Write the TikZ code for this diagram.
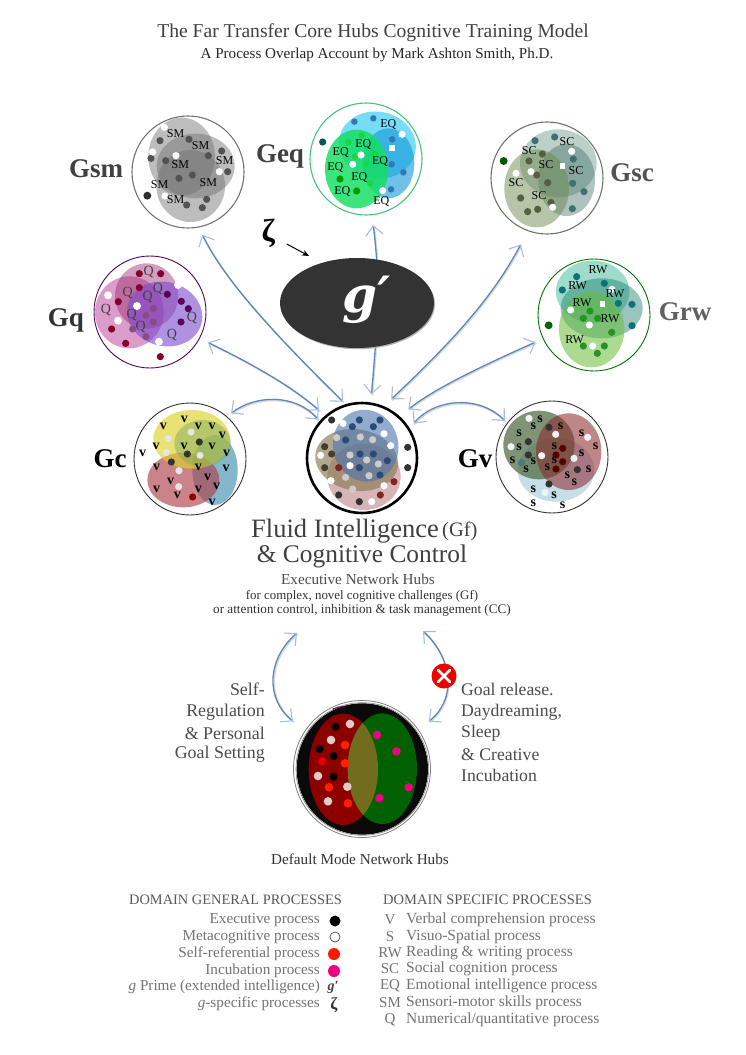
\documentclass[tikz,border=0pt]{standalone}
\usepackage{fontspec}
\setmainfont{Liberation Serif}
\newfontfamily\gfont{DejaVu Serif}
\usetikzlibrary{arrows.meta,shapes.geometric}
\definecolor{flowblue}{HTML}{5C87BC}
\definecolor{tipblue}{HTML}{A5BEDB}
\definecolor{flowshade}{HTML}{DADADA}
\definecolor{ringsc}{HTML}{667866}
\definecolor{qpink}{HTML}{C04CA0}
\definecolor{qmauve}{HTML}{9C2C70}
\definecolor{qviolet}{HTML}{7A48D0}
\definecolor{eqcy}{HTML}{30C8F5}
\definecolor{eqblue}{HTML}{1098D8}
\definecolor{eqgreen}{HTML}{10E060}
\definecolor{fblue}{HTML}{4A74B0}
\definecolor{ftan}{HTML}{8A7A50}
\definecolor{fpink}{HTML}{B06A72}
\definecolor{vblue}{HTML}{A0C8D8}
\definecolor{vgreen}{HTML}{4F6A42}
\definecolor{vred}{HTML}{8C2428}
\definecolor{cteal}{HTML}{5BA0BC}
\definecolor{cred}{HTML}{B0404A}
\definecolor{cyel}{HTML}{DCD22A}
\definecolor{cgreen}{HTML}{7AA860}
\definecolor{sca}{HTML}{5F9080}
\definecolor{scb}{HTML}{3E6E66}
\definecolor{scc}{HTML}{6E8A50}
\definecolor{rwa}{HTML}{3CB898}
\definecolor{rwb}{HTML}{1E8070}
\definecolor{rwc}{HTML}{68BC38}
\definecolor{fdot}{HTML}{2A4A78}
\newcommand{\fsz}[1]{\fontsize{#1}{#1}\selectfont}
\newcommand{\blob}[7]{\fill[fill=#1,fill opacity=#2,rotate around={#7:(#3,#4)}] (#3,#4) ellipse [x radius=#5,y radius=#6];}
\newcommand{\spots}[3]{\foreach \a/\b in {#3}{\fill[#1] (\a,\b) circle ({#2*1.08});}}
\newcommand{\tags}[3]{\foreach \a/\b in {#3}{\node[tagtext,#1,name=#2-\a-\b] at (\a,\b) {#2};}}
% start, control 1, control 2, end, shorten at start, shorten at end
\newcommand{\flow}[6]{%
  \draw[flowshade,line width=1.5pt,shorten <=#5pt,shorten >=#6pt,transform canvas={shift={(1pt,-1pt)}}] (#1) .. controls (#2) and (#3) .. (#4);
  \draw[flowline,shorten <=#5pt,shorten >=#6pt] (#1) .. controls (#2) and (#3) .. (#4);}
\tikzset{
  flowline/.style={flowblue,line width=1.3pt,{Straight Barb[length=9pt,width=17pt,color=tipblue,line width=1.1pt]}-{Straight Barb[length=9pt,width=17pt,color=tipblue,line width=1.1pt]}},
  hubring/.style={circle,draw=#1,inner sep=0pt,minimum size=112pt,line width=.9pt},
  speckle/.style={dash pattern=on .9pt off .25pt,line width=1.1pt},
  tagtext/.style={inner sep=0pt,text=black},
  smalltag/.style={font=\fsz{12}},
  hubname/.style={inner sep=0pt,font=\fsz{27}\bfseries},
  head/.style={inner sep=0pt,text=#1},
  head/.default={black!75},
  legendL/.style={inner sep=0pt,anchor=east,text=black!55,font=\fsz{15.2}},
  legendR/.style={inner sep=0pt,anchor=west,text=black!55,font=\fsz{15.5}},
  legendK/.style={inner sep=0pt,text=black!55,font=\fsz{15}},
}
\begin{document}
\begin{tikzpicture}[x=1pt,y=-1pt]
\useasboundingbox (0,0) rectangle (746,1055);
\fill[white] (0,0) rectangle (746,1055);

% ---------- titles
\node[head={black!75},font=\fsz{19.6}] (title) at (373,33) {The Far Transfer Core Hubs Cognitive Training Model};
\node[head={black!85},font=\fsz{15.1}] (subtitle) at (377,55) {A Process Overlap Account by Mark Ashton Smith, Ph.D.};

% ---------- rings
\node[hubring=black!55,speckle] (hGsm) at (188,172) {};
\node[hubring=teal!60!green!75,speckle] (hGeq) at (366,159) {};
\node[hubring=ringsc,speckle] (hGsc) at (547,178) {};
\node[hubring={green!45!black}] (hGrw) at (594,315) {};
\node[hubring={violet!70!black}] (hGq) at (150,312) {};
\node[hubring=black!80] (hGc) at (190,459) {};
\node[hubring=black!80] (hGv) at (552,457) {};
\node[hubring=black,line width=2.6pt,minimum size=110pt] (hGf) at (362,458) {};

% ---------- Gsm
\begin{scope}[shift={(50pt,-90pt)},x=.33333pt,y=-.33333pt]
\blob{black!57}{.45}{395}{200}{100}{117}{0}
\blob{black!57}{.45}{437}{228}{117}{97}{0}
\blob{black!57}{.45}{422}{288}{103}{108}{0}
\spots{black!68}{10}{330/152,417/148,303/205,347/212,475/197,515/183,533/245,427/255,387/265,470/328,410/345,457/353}
\spots{black!82}{11}{292/317}
\spots{white}{10}{343/112,308/186,378/197,508/245,345/318}
\tags{smalltag}{SM}{377/132,452/168,524/212,391/225,475/278,329/285,377/329}
% Gq
\blob{qpink}{.55}{238}{667}{103}{108}{0}
\blob{qmauve}{.45}{290}{618}{95}{98}{0}
\blob{qviolet}{.6}{344}{672}{114}{96}{-15}
\spots{purple!70!black}{10}{268/551,332/551,268/593,205/635,185/717,227/760,331/800}
\spots{violet!70!black}{10}{352/613,394/634,415/656,393/696}
\spots{violet!65!black!70}{10}{310/655,288/676,310/696,248/717,288/740}
\spots{white}{11}{384/585,174/616,261/648,204/692,327/755}
\tags{font=\fsz{14},text=black!75}{Q}{296/546,233/609,324/597,293/620,168/660,245/676,272/712,426/685,366/735}
% zeta and g prime
\node[inner sep=0pt,font=\fsz{32}\bfseries] (zeta) at (655,430) {ζ};
\coordinate (zetaEnd) at (777,498);
\draw[-{Stealth[length=7pt,width=6pt]},black,line width=1pt] (zeta.east)++(35,32) -- (zetaEnd);
\end{scope}

% ---------- Geq
\begin{scope}[shift={(300pt,-95pt)},x=.33333pt,y=-.33333pt]
\blob{eqcy}{.65}{232}{150}{116}{100}{-10}
\blob{eqblue}{.6}{265}{205}{78}{105}{0}
\blob{eqgreen}{.82}{170}{222}{95}{118}{0}
\spots{teal!70!black}{10}{68/141}
\spots{cyan!65!blue!80!black}{9}{163/80,220/70,277/133,275/208,310/232,273/283}
\spots{green!65!teal!90}{9}{145/142,185/120,225/175,165/185,200/207,210/265}
\spots{green!60!black}{10}{120/252,170/288}
\spots{white}{10}{306/118,183/180,158/208,248/287}
\fill[white] (268,150) rectangle (286,169);
\tags{smalltag}{EQ}{265/87,190/148,122/172,240/198,106/218,178/247,127/288,244/318}
\end{scope}

% ---------- Gsc and Grw
\begin{scope}[shift={(370pt,-90pt)},x=.33333pt,y=-.33333pt]
\blob{sca}{.42}{565}{220}{115}{102}{0}
\blob{scb}{.42}{590}{270}{85}{108}{0}
\blob{scc}{.5}{500}{295}{97}{117}{0}
\spots{teal!50!black!75}{10}{495/152,554/141,610/207,608/280,642/305,607/356}
\spots{olive!50!green!45!black}{10}{517/192,477/213,500/255,533/278,452/324,473/365,503/358,543/337}
\spots{green!35!black}{11}{401/213}
\spots{white}{10}{605/184,483/245,438/250,548/352}
\fill[white] (569,220) rectangle (585,237);
\tags{smalltag}{SC}{478/183,591/155,528/225,618/241,438/278,507/317}
\blob{rwa}{.5}{668}{605}{110}{93}{0}
\blob{rwb}{.45}{695}{655}{123}{90}{0}
\blob{rwc}{.55}{665}{718}{98}{114}{0}
\spots{teal!85!black!95}{10}{620/560,577/600,703/580,745/640,786/643,786/707}
\spots{green!50!black!85}{10}{660/663,640/685,683/685,725/727,640/768,703/768,682/790}
\spots{green!40!black}{11}{536/706}
\spots{white}{10}{726/598,602/660,658/705,668/768}
\fill[white] (689,634) rectangle (705,651);
\tags{smalltag}{RW}{684/538,623/587,735/612,636/637,720/686,614/748}
\end{scope}

% ---------- Gc
\begin{scope}[shift={(100pt,-380pt)},x=.33333pt,y=-.33333pt]
\blob{cteal}{.75}{345}{270}{68}{105}{0}
\blob{cred}{.65}{250}{300}{108}{82}{0}
\blob{cyel}{.65}{275}{178}{115}{88}{0}
\blob{cgreen}{.45}{308}{190}{85}{70}{0}
\spots{black!80}{10}{298/186,262/222,214/246}
\spots{black!10}{10}{205/175,273/156,198/218,300/226,237/272,236/320}
\spots{red!55!black}{10}{278/351}
\tags{font=\fsz{14}\bfseries}{v}{190/138,253/118,295/138,336/138,367/165,168/198,252/198,336/198,380/220,128/220,170/262,295/262,378/265,323/292,212/305,170/327,295/327,350/320,232/347,336/368}
\end{scope}

% ---------- Gv
\begin{scope}[shift={(490pt,-395pt)},x=.33333pt,y=-.33333pt]
\blob{vblue}{.6}{198}{225}{115}{95}{0}
\blob{vgreen}{.72}{147}{150}{107}{103}{0}
\blob{vred}{.55}{236}{170}{98}{115}{0}
\spots{black!80}{10}{177/97,115/140,115/180,262/224,177/267}
\spots{teal!50!black!70}{10}{95/203}
\spots{red!35!black}{10}{218/160,198/180,218/200,198/222}
\spots{black!5}{10}{117/70,197/118,293/127,63/155,155/182,252/190,165/292}
\tags{font=\fsz{14}\bfseries}{s}{150/73,130/95,212/95,87/116,275/115,87/156,317/155,193/155,68/195,130/198,193/195,275/176,108/222,172/218,296/222,232/240,253/262,130/283,192/302,130/325,218/332}
\end{scope}

% ---------- Gf
\begin{scope}[shift={(300pt,-395pt)},x=.33333pt,y=-.33333pt]
\blob{fpink}{.5}{192}{245}{110}{100}{0}
\blob{ftan}{.65}{170}{195}{125}{92}{-10}
\blob{fblue}{.6}{197}{152}{98}{108}{12}
\spots{black!80}{10}{95/75,323/157,323/218,116/300,178/320}
\spots{fdot}{10}{178/75,240/75,157/95,220/95,137/135,180/177,220/177,262/197,178/218,240/240}
\spots{black!70!olive}{10}{74/155,95/177,74/218}
\spots{red!40!black!85}{10}{116/218,241/300,282/260}
\spots{white}{10}{129/85,252/116,272/152,62/181,93/257,215/320,252/272,150/212}
\spots{black!20}{10}{110/128,181/126,218/134,150/180,200/195,235/207,207/242,137/247,158/282}
\end{scope}

% ---------- arrows between hubs and Gf (Geq goes behind g')
\flow{hGsm.-79}{223,277}{267,327}{hGf.107}{8}{3.5}
\flow{hGq.-28}{250,363}{290,385}{hGf.131}{9}{8}
\flow{hGeq.-84}{381,285}{377,330}{hGf.81}{10}{8}
\flow{hGsc.-110}{490,303}{443,350}{hGf.67}{15}{10}
\flow{hGrw.-155}{473,370}{433,390}{hGf.48}{8}{11}
\flow{hGc.49}{255,395}{295,393}{hGf.139}{5}{2}
\flow{hGf.32}{435,398}{480,395}{hGv.143}{6}{3}

% ---------- g prime
\fill[black!30,transform canvas={shift={(1pt,-1.2pt)}}] (357,303) ellipse [x radius=77,y radius=45];
\node[ellipse,fill=black!80,minimum width=154pt,minimum height=90pt,inner sep=0pt] (gprime) at (357,303) {};
\node[inner sep=0pt,text=white,font=\gfont\fsz{50}\bfseries\itshape] (gprimeText) at (367,300) {g′};

% ---------- hub names
\node[hubname,text=black!75] (nGsm) at (96,169) {Gsm};
\node[hubname,text=black!75] (nGeq) at (280,156) {Geq};
\node[hubname,text=black!80] (nGq) at (66,320) {Gq};
\node[hubname,text=black!68] (nGsc) at (632,173) {Gsc};
\node[hubname,text=black!62] (nGrw) at (685,312) {Grw};
\node[hubname,text=black] (nGc) at (110,459) {Gc};
\node[hubname,text=black] (nGv) at (475,459) {Gv};

% ---------- Gf caption
\node[head={black!75},font=\fsz{26.5},anchor=west] (cap1) at (251,531) {Fluid Intelligence};
\node[head={black!75},font=\fsz{20.5},anchor=west] (cap1b) at (442,531) {(Gf)};
\node[head={black!75},font=\fsz{25.4}] (cap2) at (362,556.5) {\& Cognitive Control};
\node[head={black!70},font=\fsz{15.2}] (cap3) at (358,579) {Executive Network Hubs};
\node[head={black!80},font=\fsz{12.9}] (cap4) at (362,596) {for complex, novel cognitive challenges (Gf)};
\node[head={black!80},font=\fsz{13.2}] (cap5) at (362,610) {or attention control, inhibition \& task management (CC)};

% ---------- Default mode network
\node[circle,draw=black!50,fill=white,line width=.8pt,minimum size=137pt,inner sep=0pt] (hDMN) at (362,769) {};
\begin{scope}[shift={(170pt,-620pt)},x=.33333pt,y=-.33333pt]
\fill[black!96] (577,447) circle (197);
\draw[black!50,line width=.6pt] (577,447) circle (199);
\draw[violet,line width=1.2pt] (488,268) to[bend left=12] (522,260);
\fill[red!55!black] (520,448) ellipse [x radius=104,y radius=167];
\fill[green!38!black] (637,446) ellipse [x radius=104,y radius=166];
\begin{scope}
\clip (520,448) ellipse [x radius=104,y radius=167];
\fill[olive!75!black] (637,446) ellipse [x radius=104,y radius=166];
\end{scope}
\spots{red!12!white!90!black}{12}{540/312,483/360,444/468,532/500,474/544}
\foreach \a/\b in {497/320,449/387,491/408,491/470}{\fill[black,draw=red!20!black,line width=.5pt] (\a,\b) circle (12);}
\spots{red!75!orange}{12}{525/375,525/430,477/502,534/550}
\spots{red!90!black}{11}{456/424}
\spots{magenta!90!red}{12}{621/345,679/394,716/502,628/534}
\end{scope}
\coordinate (loopL) at (297,633);
\coordinate (loopR) at (423,631);
\flow{loopL}{266,660}{266,700}{hDMN.146}{0}{15}
\flow{loopR}{454,660}{456,700}{hDMN.35.5}{0}{13}
\node[circle,fill=red!93!black,minimum size=25pt,inner sep=0pt] (stop) at (444,676) {};
\draw[white,line width=2.6pt,line cap=round] (stop.center)++(-6,-6) -- ++(12,12);
\draw[white,line width=2.6pt,line cap=round] (stop.center)++(6,-6) -- ++(-12,12);

\foreach \n/\y/\t in {a/689/Self-,b/712/Regulation,c/733/\& Personal,d/754/Goal Setting}
  \node[head={black!70},font=\fsz{17.9},anchor=east,name=sr\n] at (265,\y) {\t};
\foreach \n/\y/\t in {a/689/Goal release.,b/712/{Daydreaming,},c/733/Sleep,d/755/\& Creative,e/775/Incubation}
  \node[head={black!70},font=\fsz{17.7},anchor=west,name=gr\n] at (461,\y) {\t};
\node[head={black!80},font=\fsz{15.2}] (dmn) at (360,859) {Default Mode Network Hubs};

% ---------- legend
\node[head={black!65},font=\fsz{14.4},anchor=west] (lgA) at (129,900) {DOMAIN GENERAL PROCESSES};
\node[head={black!65},font=\fsz{14.5},anchor=west] (lgB) at (383,900) {DOMAIN SPECIFIC PROCESSES};
\foreach \n/\y/\t in {a/920/Executive process,b/937/Metacognitive process,c/954/Self-referential process,d/971/Incubation process,e/987/{\textit{g} Prime (extended intelligence)},f/1004/{\textit{g}-specific processes}}
  \node[legendL,name=gl\n] at (320,\y) {\t};
\node[circle,fill=black,minimum size=11pt,inner sep=0pt] (kA) at (335,921) {};
\node[circle,draw=black!70,fill=white,line width=.7pt,minimum size=10pt,inner sep=0pt] (kB) at (335,937) {};
\node[circle,fill=red!80!orange,minimum size=12pt,inner sep=0pt] (kC) at (334,954) {};
\node[circle,fill=magenta!90!red,minimum size=12pt,inner sep=0pt] (kD) at (334,971) {};
\node[inner sep=0pt,font=\fsz{14}\bfseries\itshape,text=black!75] (kE) at (333,987) {g′};
\node[inner sep=0pt,font=\fsz{17}\bfseries,text=black!80] (kF) at (334,1005) {ζ};
\foreach \n/\y/\k/\t in {a/920/V/Verbal comprehension process,b/937/S/Visuo-Spatial process,c/953/RW/Reading \& writing process,d/969/SC/Social cognition process,e/986/EQ/Emotional intelligence process,f/1003/SM/Sensori-motor skills process,g/1020/Q/Numerical{/}quantitative process}{
  \node[legendK,name=sk\n] at (390,\y) {\k};
  \node[legendR,name=sl\n] at (406,\y) {\t};
}
\end{tikzpicture}
\end{document}
